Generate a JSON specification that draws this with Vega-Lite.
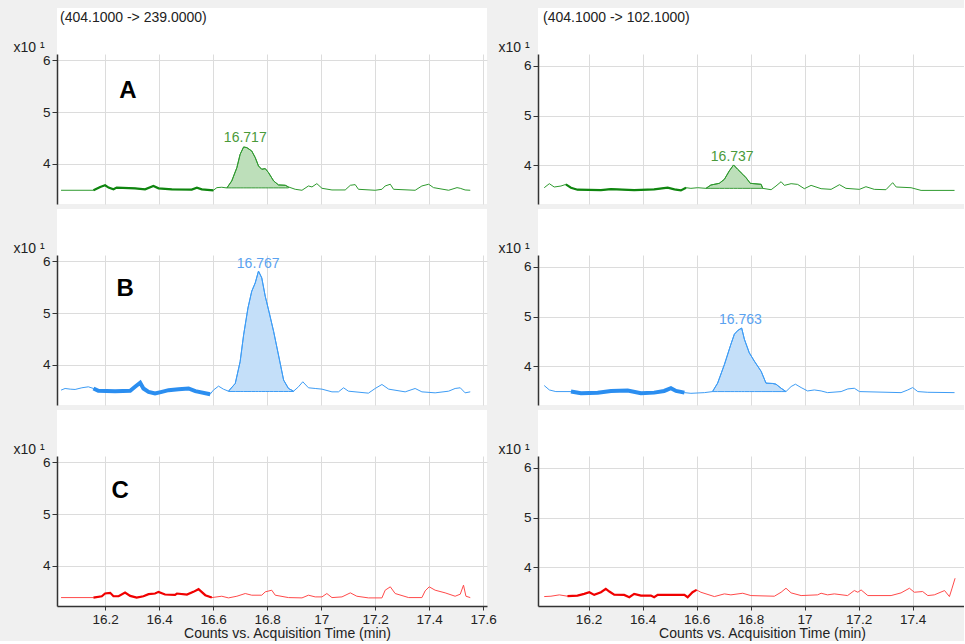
{
"$schema":"https://vega.github.io/schema/vega-lite/v6.json",
"background":"#f0f0f0",
"padding":{"left":13,"top":7,"right":0,"bottom":0},
"config":{"view":{"fill":"white","stroke":null},
"axis":{"labelFont":"Liberation Sans","labelFontSize":13.5,"labelColor":"#222","titleFont":"Liberation Sans","titleFontSize":14,"titleFontWeight":"normal","titleColor":"#222","domainColor":"#333","tickColor":"#333","gridColor":"#dcdcdc"}},
"datasets":{
"lA":[{"t":16.037,"y":3.494},{"t":16.157,"y":3.494},{"t":16.182,"y":3.558},{"t":16.2,"y":3.59},{"t":16.213,"y":3.545},{"t":16.231,"y":3.513},{"t":16.243,"y":3.545},{"t":16.311,"y":3.532},{"t":16.348,"y":3.513},{"t":16.379,"y":3.577},{"t":16.398,"y":3.532},{"t":16.447,"y":3.513},{"t":16.521,"y":3.507},{"t":16.54,"y":3.545},{"t":16.558,"y":3.513},{"t":16.601,"y":3.494},{"t":16.614,"y":3.545},{"t":16.632,"y":3.552},{"t":16.651,"y":3.539},{"t":16.669,"y":3.674},{"t":16.688,"y":3.93},{"t":16.7,"y":4.186},{"t":16.713,"y":4.327},{"t":16.725,"y":4.314},{"t":16.743,"y":4.25},{"t":16.756,"y":4.122},{"t":16.768,"y":3.962},{"t":16.78,"y":3.898},{"t":16.793,"y":3.911},{"t":16.805,"y":3.834},{"t":16.824,"y":3.674},{"t":16.842,"y":3.597},{"t":16.867,"y":3.59},{"t":16.879,"y":3.558},{"t":16.904,"y":3.513},{"t":16.929,"y":3.494},{"t":16.953,"y":3.577},{"t":16.966,"y":3.558},{"t":16.984,"y":3.622},{"t":17.003,"y":3.532},{"t":17.04,"y":3.5},{"t":17.089,"y":3.5},{"t":17.108,"y":3.59},{"t":17.126,"y":3.603},{"t":17.138,"y":3.513},{"t":17.2,"y":3.494},{"t":17.225,"y":3.513},{"t":17.237,"y":3.577},{"t":17.256,"y":3.61},{"t":17.268,"y":3.513},{"t":17.348,"y":3.494},{"t":17.373,"y":3.577},{"t":17.398,"y":3.61},{"t":17.416,"y":3.545},{"t":17.472,"y":3.494},{"t":17.503,"y":3.545},{"t":17.515,"y":3.532},{"t":17.533,"y":3.5},{"t":17.552,"y":3.494}],
"rA":[{"t":16.036,"y":3.548},{"t":16.055,"y":3.629},{"t":16.073,"y":3.562},{"t":16.098,"y":3.582},{"t":16.116,"y":3.615},{"t":16.135,"y":3.548},{"t":16.159,"y":3.508},{"t":16.246,"y":3.501},{"t":16.283,"y":3.521},{"t":16.369,"y":3.501},{"t":16.443,"y":3.515},{"t":16.493,"y":3.548},{"t":16.518,"y":3.515},{"t":16.542,"y":3.494},{"t":16.561,"y":3.548},{"t":16.579,"y":3.535},{"t":16.604,"y":3.548},{"t":16.635,"y":3.535},{"t":16.653,"y":3.602},{"t":16.684,"y":3.636},{"t":16.703,"y":3.717},{"t":16.721,"y":3.885},{"t":16.737,"y":4.006},{"t":16.752,"y":3.919},{"t":16.771,"y":3.818},{"t":16.783,"y":3.75},{"t":16.799,"y":3.636},{"t":16.839,"y":3.616},{"t":16.845,"y":3.535},{"t":16.876,"y":3.508},{"t":16.894,"y":3.582},{"t":16.913,"y":3.669},{"t":16.925,"y":3.595},{"t":16.95,"y":3.629},{"t":16.974,"y":3.615},{"t":16.999,"y":3.528},{"t":17.024,"y":3.595},{"t":17.061,"y":3.528},{"t":17.098,"y":3.515},{"t":17.129,"y":3.609},{"t":17.153,"y":3.535},{"t":17.203,"y":3.515},{"t":17.227,"y":3.568},{"t":17.258,"y":3.515},{"t":17.301,"y":3.508},{"t":17.326,"y":3.649},{"t":17.339,"y":3.562},{"t":17.394,"y":3.548},{"t":17.431,"y":3.494},{"t":17.555,"y":3.494}],
"lB":[{"t":16.037,"y":3.516},{"t":16.052,"y":3.548},{"t":16.071,"y":3.535},{"t":16.089,"y":3.529},{"t":16.114,"y":3.561},{"t":16.138,"y":3.58},{"t":16.157,"y":3.548},{"t":16.175,"y":3.503},{"t":16.237,"y":3.496},{"t":16.293,"y":3.503},{"t":16.311,"y":3.58},{"t":16.33,"y":3.658},{"t":16.342,"y":3.548},{"t":16.361,"y":3.483},{"t":16.385,"y":3.451},{"t":16.41,"y":3.483},{"t":16.435,"y":3.516},{"t":16.472,"y":3.535},{"t":16.509,"y":3.548},{"t":16.534,"y":3.496},{"t":16.589,"y":3.438},{"t":16.601,"y":3.516},{"t":16.62,"y":3.593},{"t":16.638,"y":3.535},{"t":16.657,"y":3.496},{"t":16.682,"y":3.645},{"t":16.7,"y":4.064},{"t":16.713,"y":4.58},{"t":16.729,"y":5.096},{"t":16.743,"y":5.419},{"t":16.756,"y":5.58},{"t":16.768,"y":5.806},{"t":16.78,"y":5.677},{"t":16.793,"y":5.322},{"t":16.808,"y":5.0},{"t":16.824,"y":4.645},{"t":16.842,"y":4.193},{"t":16.861,"y":3.709},{"t":16.879,"y":3.548},{"t":16.898,"y":3.496},{"t":16.916,"y":3.58},{"t":16.932,"y":3.677},{"t":16.953,"y":3.561},{"t":16.978,"y":3.548},{"t":17.003,"y":3.535},{"t":17.04,"y":3.483},{"t":17.064,"y":3.483},{"t":17.083,"y":3.561},{"t":17.101,"y":3.496},{"t":17.175,"y":3.458},{"t":17.2,"y":3.548},{"t":17.225,"y":3.625},{"t":17.25,"y":3.535},{"t":17.311,"y":3.483},{"t":17.348,"y":3.548},{"t":17.373,"y":3.483},{"t":17.422,"y":3.464},{"t":17.472,"y":3.496},{"t":17.496,"y":3.548},{"t":17.515,"y":3.561},{"t":17.533,"y":3.464},{"t":17.552,"y":3.483}],
"rB":[{"t":16.036,"y":3.612},{"t":16.055,"y":3.523},{"t":16.079,"y":3.49},{"t":16.135,"y":3.49},{"t":16.172,"y":3.455},{"t":16.234,"y":3.469},{"t":16.283,"y":3.503},{"t":16.345,"y":3.51},{"t":16.394,"y":3.455},{"t":16.443,"y":3.469},{"t":16.48,"y":3.503},{"t":16.505,"y":3.557},{"t":16.524,"y":3.503},{"t":16.555,"y":3.469},{"t":16.579,"y":3.455},{"t":16.629,"y":3.469},{"t":16.659,"y":3.49},{"t":16.678,"y":3.66},{"t":16.703,"y":4.034},{"t":16.727,"y":4.442},{"t":16.74,"y":4.646},{"t":16.754,"y":4.727},{"t":16.767,"y":4.768},{"t":16.777,"y":4.544},{"t":16.795,"y":4.272},{"t":16.814,"y":4.102},{"t":16.839,"y":3.898},{"t":16.857,"y":3.66},{"t":16.882,"y":3.653},{"t":16.894,"y":3.639},{"t":16.913,"y":3.557},{"t":16.931,"y":3.49},{"t":16.95,"y":3.592},{"t":16.966,"y":3.639},{"t":16.987,"y":3.571},{"t":17.011,"y":3.503},{"t":17.036,"y":3.523},{"t":17.061,"y":3.503},{"t":17.085,"y":3.469},{"t":17.135,"y":3.49},{"t":17.16,"y":3.544},{"t":17.184,"y":3.557},{"t":17.203,"y":3.49},{"t":17.357,"y":3.469},{"t":17.382,"y":3.523},{"t":17.4,"y":3.571},{"t":17.419,"y":3.49},{"t":17.456,"y":3.476},{"t":17.555,"y":3.469}],
"lC":[{"t":16.037,"y":3.392},{"t":16.157,"y":3.392},{"t":16.188,"y":3.418},{"t":16.2,"y":3.47},{"t":16.219,"y":3.483},{"t":16.231,"y":3.418},{"t":16.25,"y":3.418},{"t":16.274,"y":3.489},{"t":16.293,"y":3.425},{"t":16.317,"y":3.392},{"t":16.342,"y":3.418},{"t":16.361,"y":3.457},{"t":16.385,"y":3.47},{"t":16.398,"y":3.502},{"t":16.422,"y":3.451},{"t":16.459,"y":3.444},{"t":16.466,"y":3.47},{"t":16.503,"y":3.451},{"t":16.527,"y":3.502},{"t":16.546,"y":3.554},{"t":16.571,"y":3.438},{"t":16.595,"y":3.392},{"t":16.632,"y":3.418},{"t":16.657,"y":3.386},{"t":16.688,"y":3.418},{"t":16.719,"y":3.47},{"t":16.743,"y":3.438},{"t":16.78,"y":3.438},{"t":16.793,"y":3.502},{"t":16.817,"y":3.534},{"t":16.83,"y":3.438},{"t":16.879,"y":3.392},{"t":16.929,"y":3.386},{"t":16.953,"y":3.438},{"t":16.978,"y":3.405},{"t":17.003,"y":3.405},{"t":17.021,"y":3.47},{"t":17.04,"y":3.392},{"t":17.077,"y":3.405},{"t":17.108,"y":3.483},{"t":17.132,"y":3.418},{"t":17.175,"y":3.386},{"t":17.225,"y":3.386},{"t":17.237,"y":3.534},{"t":17.256,"y":3.599},{"t":17.274,"y":3.47},{"t":17.324,"y":3.392},{"t":17.373,"y":3.392},{"t":17.385,"y":3.521},{"t":17.4,"y":3.599},{"t":17.422,"y":3.534},{"t":17.459,"y":3.483},{"t":17.496,"y":3.418},{"t":17.515,"y":3.457},{"t":17.527,"y":3.631},{"t":17.536,"y":3.418},{"t":17.552,"y":3.392}],
"rC":[{"t":16.036,"y":3.41},{"t":16.061,"y":3.417},{"t":16.092,"y":3.444},{"t":16.122,"y":3.417},{"t":16.159,"y":3.43},{"t":16.184,"y":3.464},{"t":16.203,"y":3.497},{"t":16.221,"y":3.444},{"t":16.246,"y":3.497},{"t":16.264,"y":3.564},{"t":16.277,"y":3.511},{"t":16.295,"y":3.45},{"t":16.332,"y":3.444},{"t":16.351,"y":3.397},{"t":16.369,"y":3.464},{"t":16.394,"y":3.43},{"t":16.431,"y":3.43},{"t":16.443,"y":3.397},{"t":16.456,"y":3.444},{"t":16.555,"y":3.444},{"t":16.567,"y":3.397},{"t":16.585,"y":3.497},{"t":16.6,"y":3.544},{"t":16.616,"y":3.497},{"t":16.666,"y":3.41},{"t":16.703,"y":3.464},{"t":16.727,"y":3.444},{"t":16.771,"y":3.477},{"t":16.801,"y":3.43},{"t":16.888,"y":3.417},{"t":16.913,"y":3.497},{"t":16.931,"y":3.578},{"t":16.95,"y":3.484},{"t":16.987,"y":3.43},{"t":17.048,"y":3.444},{"t":17.061,"y":3.477},{"t":17.085,"y":3.444},{"t":17.11,"y":3.464},{"t":17.159,"y":3.43},{"t":17.184,"y":3.531},{"t":17.197,"y":3.497},{"t":17.209,"y":3.544},{"t":17.234,"y":3.43},{"t":17.32,"y":3.43},{"t":17.357,"y":3.484},{"t":17.388,"y":3.578},{"t":17.406,"y":3.497},{"t":17.437,"y":3.511},{"t":17.456,"y":3.43},{"t":17.48,"y":3.444},{"t":17.518,"y":3.531},{"t":17.536,"y":3.41},{"t":17.545,"y":3.564},{"t":17.557,"y":3.779}],
"peaks":[{"panel":"lA","t":16.719,"y":4.5,"label":"16.717"},{"panel":"rA","t":16.732,"y":4.163,"label":"16.737"},{"panel":"lB","t":16.767,"y":5.948,"label":"16.767"},{"panel":"rB","t":16.762,"y":4.923,"label":"16.763"}],
"letters":[{"panel":"lA","t":16.285,"y":5.404,"label":"A"},{"panel":"lB","t":16.274,"y":5.462,"label":"B"},{"panel":"lC","t":16.256,"y":5.443,"label":"C"}]
},
"columns":2,
"spacing":{"row":51,"column":51},
"bounds":"flush",
"concat":[
{"width":430,"height":150,
 "title":{"text":"(404.1000 -> 239.0000)","anchor":"start","frame":"group","dx":3,"offset":-17,"fontSize":14,"fontWeight":"normal","font":"Liberation Sans","color":"#222","zindex":1},
 "data":{"name":"lA"},
 "encoding":{"x":{"field":"t","type":"quantitative","scale":{"domain":[16.022,17.614],"nice":false,"zero":false},"axis":{"values":[16.2,16.4,16.6,16.8,17,17.2,17.4,17.6],"labels":false,"ticks":false,"domain":false,"title":null}},
  "y":{"field":"y","type":"quantitative","scale":{"domain":[3.23,6.116],"nice":false,"zero":false},"axis":{"values":[4,5,6],"title":"x10 ¹","titleAngle":0,"titleAlign":"left","titleBaseline":"alphabetic","titleX":-44,"titleY":-3,"tickSize":5,"labelPadding":2,"domainWidth":1.5}}},
 "layer":[
  {"mark":{"type":"rect","fill":"white"},"encoding":{"x":{"datum":16.022},"x2":{"datum":17.614},"y":{"datum":6.116},"y2":{"datum":7.0}}},
  {"transform":[{"filter":"datum.t>=16.651 && datum.t<=16.879"}],"mark":{"type":"area","fill":"#bddfba","stroke":"#3a9a3a","strokeWidth":1},"encoding":{"y2":{"datum":3.54}}},
  {"mark":{"type":"line","color":"#2e9a2e","strokeWidth":1},"encoding":{}},
  {"transform":[{"filter":"datum.t>=16.157 && datum.t<=16.601"}],"mark":{"type":"line","color":"#0f850f","strokeWidth":2.2},"encoding":{}},
  {"data":{"name":"peaks"},"transform":[{"filter":"datum.panel=='lA'"}],"mark":{"type":"text","font":"Liberation Sans","fontSize":14,"color":"#4a9a3a","baseline":"middle"},"encoding":{"text":{"field":"label"}}},
  {"data":{"name":"letters"},"transform":[{"filter":"datum.panel=='lA'"}],"mark":{"type":"text","font":"Liberation Sans","fontSize":24,"fontWeight":"bold","color":"#000","baseline":"middle"},"encoding":{"text":{"field":"label"}}}
 ]},
{"width":426,"height":150,
 "title":{"text":"(404.1000 -> 102.1000)","anchor":"start","frame":"group","dx":5,"offset":-17,"fontSize":14,"fontWeight":"normal","font":"Liberation Sans","color":"#222","zindex":1},
 "data":{"name":"rA"},
 "encoding":{"x":{"field":"t","type":"quantitative","scale":{"domain":[16.013,17.59],"nice":false,"zero":false},"axis":{"values":[16.2,16.4,16.6,16.8,17,17.2,17.4],"labels":false,"ticks":false,"domain":false,"title":null}},
  "y":{"field":"y","type":"quantitative","scale":{"domain":[3.22,6.24],"nice":false,"zero":false},"axis":{"values":[4,5,6],"title":"x10 ¹","titleAngle":0,"titleAlign":"left","titleBaseline":"alphabetic","titleX":-40,"titleY":-3,"tickSize":5,"labelPadding":2,"domainWidth":1.5}}},
 "layer":[
  {"mark":{"type":"rect","fill":"white"},"encoding":{"x":{"datum":16.013},"x2":{"datum":17.59},"y":{"datum":6.24},"y2":{"datum":7.167}}},
  {"transform":[{"filter":"datum.t>=16.635 && datum.t<=16.845"}],"mark":{"type":"area","fill":"#bddfba","stroke":"#3a9a3a","strokeWidth":1},"encoding":{"y2":{"datum":3.535}}},
  {"mark":{"type":"line","color":"#2e9a2e","strokeWidth":1},"encoding":{}},
  {"transform":[{"filter":"datum.t>=16.116 && datum.t<=16.561"}],"mark":{"type":"line","color":"#0f850f","strokeWidth":2.2},"encoding":{}},
  {"data":{"name":"peaks"},"transform":[{"filter":"datum.panel=='rA'"}],"mark":{"type":"text","font":"Liberation Sans","fontSize":14,"color":"#4a9a3a","baseline":"middle"},"encoding":{"text":{"field":"label"}}}
 ]},
{"width":430,"height":150,
 "data":{"name":"lB"},
 "encoding":{"x":{"field":"t","type":"quantitative","scale":{"domain":[16.022,17.614],"nice":false,"zero":false},"axis":{"values":[16.2,16.4,16.6,16.8,17,17.2,17.4,17.6],"labels":false,"ticks":false,"domain":false,"title":null}},
  "y":{"field":"y","type":"quantitative","scale":{"domain":[3.23,6.116],"nice":false,"zero":false},"axis":{"values":[4,5,6],"title":"x10 ¹","titleAngle":0,"titleAlign":"left","titleBaseline":"alphabetic","titleX":-44,"titleY":-3,"tickSize":5,"labelPadding":2,"domainWidth":1.5}}},
 "layer":[
  {"mark":{"type":"rect","fill":"white"},"encoding":{"x":{"datum":16.022},"x2":{"datum":17.614},"y":{"datum":6.116},"y2":{"datum":7.0}}},
  {"transform":[{"filter":"datum.t>=16.657 && datum.t<=16.898"}],"mark":{"type":"area","fill":"#c4dff9","stroke":"#3d9cf5","strokeWidth":1},"encoding":{"y2":{"datum":3.49}}},
  {"mark":{"type":"line","color":"#3d9cf5","strokeWidth":1},"encoding":{}},
  {"transform":[{"filter":"datum.t>=16.157 && datum.t<=16.589"}],"mark":{"type":"line","color":"#2b8ef0","strokeWidth":4},"encoding":{}},
  {"data":{"name":"peaks"},"transform":[{"filter":"datum.panel=='lB'"}],"mark":{"type":"text","font":"Liberation Sans","fontSize":14,"color":"#5aa2f0","baseline":"middle"},"encoding":{"text":{"field":"label"}}},
  {"data":{"name":"letters"},"transform":[{"filter":"datum.panel=='lB'"}],"mark":{"type":"text","font":"Liberation Sans","fontSize":24,"fontWeight":"bold","color":"#000","baseline":"middle"},"encoding":{"text":{"field":"label"}}}
 ]},
{"width":426,"height":150,
 "data":{"name":"rB"},
 "encoding":{"x":{"field":"t","type":"quantitative","scale":{"domain":[16.013,17.59],"nice":false,"zero":false},"axis":{"values":[16.2,16.4,16.6,16.8,17,17.2,17.4],"labels":false,"ticks":false,"domain":false,"title":null}},
  "y":{"field":"y","type":"quantitative","scale":{"domain":[3.22,6.24],"nice":false,"zero":false},"axis":{"values":[4,5,6],"title":"x10 ¹","titleAngle":0,"titleAlign":"left","titleBaseline":"alphabetic","titleX":-40,"titleY":-3,"tickSize":5,"labelPadding":2,"domainWidth":1.5}}},
 "layer":[
  {"mark":{"type":"rect","fill":"white"},"encoding":{"x":{"datum":16.013},"x2":{"datum":17.59},"y":{"datum":6.24},"y2":{"datum":7.167}}},
  {"transform":[{"filter":"datum.t>=16.659 && datum.t<=16.931"}],"mark":{"type":"area","fill":"#c4dff9","stroke":"#3d9cf5","strokeWidth":1},"encoding":{"y2":{"datum":3.49}}},
  {"mark":{"type":"line","color":"#3d9cf5","strokeWidth":1},"encoding":{}},
  {"transform":[{"filter":"datum.t>=16.135 && datum.t<=16.555"}],"mark":{"type":"line","color":"#2b8ef0","strokeWidth":4},"encoding":{}},
  {"data":{"name":"peaks"},"transform":[{"filter":"datum.panel=='rB'"}],"mark":{"type":"text","font":"Liberation Sans","fontSize":14,"color":"#5aa2f0","baseline":"middle"},"encoding":{"text":{"field":"label"}}}
 ]},
{"width":430,"height":150,
 "data":{"name":"lC"},
 "encoding":{"x":{"field":"t","type":"quantitative","scale":{"domain":[16.022,17.614],"nice":false,"zero":false},"axis":{"values":[16.2,16.4,16.6,16.8,17,17.2,17.4,17.6],"format":"~g","title":"Counts vs. Acquisition Time (min)","titleX":230,"titlePadding":1,"tickSize":4,"labelPadding":2,"domainWidth":1.5}},
  "y":{"field":"y","type":"quantitative","scale":{"domain":[3.23,6.116],"nice":false,"zero":false},"axis":{"values":[4,5,6],"title":"x10 ¹","titleAngle":0,"titleAlign":"left","titleBaseline":"alphabetic","titleX":-44,"titleY":-3,"tickSize":5,"labelPadding":2,"domainWidth":1.5}}},
 "layer":[
  {"mark":{"type":"rect","fill":"white"},"encoding":{"x":{"datum":16.022},"x2":{"datum":17.614},"y":{"datum":6.116},"y2":{"datum":7.0}}},
  {"mark":{"type":"line","color":"#ff4a4a","strokeWidth":1},"encoding":{}},
  {"transform":[{"filter":"datum.t>=16.157 && datum.t<=16.595"}],"mark":{"type":"line","color":"#f00000","strokeWidth":2.2},"encoding":{}},
  {"data":{"name":"letters"},"transform":[{"filter":"datum.panel=='lC'"}],"mark":{"type":"text","font":"Liberation Sans","fontSize":24,"fontWeight":"bold","color":"#000","baseline":"middle"},"encoding":{"text":{"field":"label"}}}
 ]},
{"width":426,"height":150,
 "data":{"name":"rC"},
 "encoding":{"x":{"field":"t","type":"quantitative","scale":{"domain":[16.013,17.59],"nice":false,"zero":false},"axis":{"values":[16.2,16.4,16.6,16.8,17,17.2,17.4],"format":"~g","title":"Counts vs. Acquisition Time (min)","titleX":224,"titlePadding":1,"tickSize":4,"labelPadding":2,"domainWidth":1.5}},
  "y":{"field":"y","type":"quantitative","scale":{"domain":[3.22,6.24],"nice":false,"zero":false},"axis":{"values":[4,5,6],"title":"x10 ¹","titleAngle":0,"titleAlign":"left","titleBaseline":"alphabetic","titleX":-40,"titleY":-3,"tickSize":5,"labelPadding":2,"domainWidth":1.5}}},
 "layer":[
  {"mark":{"type":"rect","fill":"white"},"encoding":{"x":{"datum":16.013},"x2":{"datum":17.59},"y":{"datum":6.24},"y2":{"datum":7.167}}},
  {"mark":{"type":"line","color":"#ff4a4a","strokeWidth":1},"encoding":{}},
  {"transform":[{"filter":"datum.t>=16.122 && datum.t<=16.6"}],"mark":{"type":"line","color":"#f00000","strokeWidth":2.2},"encoding":{}}
 ]}
]
}
